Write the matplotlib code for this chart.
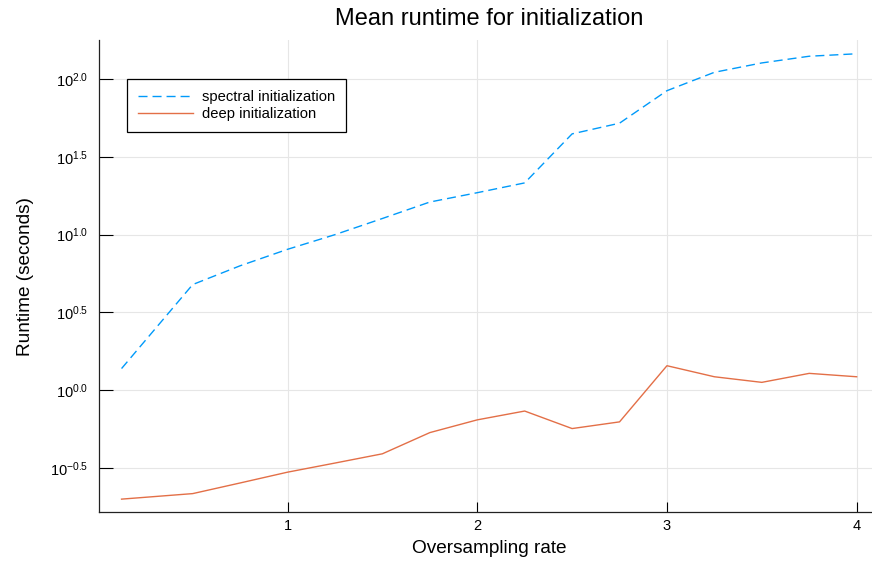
import matplotlib
matplotlib.use("Agg")
import matplotlib.pyplot as plt
from matplotlib.ticker import FixedLocator, FuncFormatter, NullLocator
import numpy as np

oversampling = [0.125, 0.5, 0.75, 1.0, 1.25, 1.5, 1.75, 2.0, 2.25, 2.5, 2.75, 3.0, 3.25, 3.5, 3.75, 4.0]
spectral_time = [1.38, 4.78, 6.31, 8.05, 10.0, 12.7, 16.2, 18.6, 21.5, 44.4, 52.0, 84.1, 110.4, 126.8, 140.0, 145.2]
deep_time = [0.200, 0.217, 0.254, 0.298, 0.341, 0.391, 0.535, 0.646, 0.736, 0.568, 0.627, 1.439, 1.222, 1.125, 1.285, 1.222]

x_ticks = [1, 2, 3, 4]
y_tick_exponents = [-0.5, 0.0, 0.5, 1.0, 1.5, 2.0]

plt.rcParams["font.family"] = ["Liberation Sans", "DejaVu Sans"]
plt.rcParams["mathtext.fontset"] = "custom"
plt.rcParams["mathtext.rm"] = "Liberation Sans"
plt.rcParams["mathtext.it"] = "Liberation Sans"

fig = plt.figure(figsize=(8.72, 5.62), dpi=100)
ax = fig.add_axes([0.1141, 0.0881, 0.8936, 0.840])

ax.plot(oversampling, spectral_time, color="#009AFA", lw=1.0,
        linestyle=(0, (6.5, 3.6)), label="spectral initialization")
ax.plot(oversampling, deep_time, color="#E36F47", lw=1.0,
        label="deep initialization")

ax.set_yscale("log")
lo, hi = np.log10(min(deep_time)), np.log10(max(spectral_time))
pad = 0.03 * (hi - lo)
ax.set_ylim(10 ** (lo - pad), 10 ** (hi + pad))
xpad = 0.03 * (max(oversampling) - min(oversampling))
ax.set_xlim(min(oversampling) - xpad, max(oversampling) + xpad)

ax.xaxis.set_major_locator(FixedLocator(x_ticks))
ax.yaxis.set_major_locator(FixedLocator([10 ** e for e in y_tick_exponents]))
ax.yaxis.set_minor_locator(NullLocator())
ax.yaxis.set_major_formatter(FuncFormatter(
    lambda v, pos: r"$\mathregular{10^{%.1f}}$" % np.log10(v)))

ax.tick_params(axis="y", direction="in", length=10, width=0.8, labelsize=10.5, pad=8)
ax.tick_params(axis="x", direction="in", length=7, width=0.8, labelsize=10.5, pad=5)

for side in ("top", "right"):
    ax.spines[side].set_visible(False)
for side in ("left", "bottom"):
    ax.spines[side].set_linewidth(0.9)
    ax.spines[side].set_color("#222222")

ax.grid(True, color="#e6e6e6", linewidth=0.8)
ax.set_axisbelow(True)

ax.set_title("Mean runtime for initialization", fontsize=17, pad=11)
ax.set_xlabel("Oversampling rate", fontsize=13.7, labelpad=5)
ax.set_ylabel("Runtime (seconds)", fontsize=13.7)
ax.yaxis.set_label_coords(-0.084, 0.5)

leg = ax.legend(loc="upper left", bbox_to_anchor=(0.0357, 0.918), borderaxespad=0,
                fontsize=10.6, fancybox=False, framealpha=1, edgecolor="black",
                handlelength=3.7, handletextpad=0.6, labelspacing=0.2, borderpad=0.75)
leg.get_frame().set_linewidth(0.9)

fig.savefig("out.png", dpi=100)
